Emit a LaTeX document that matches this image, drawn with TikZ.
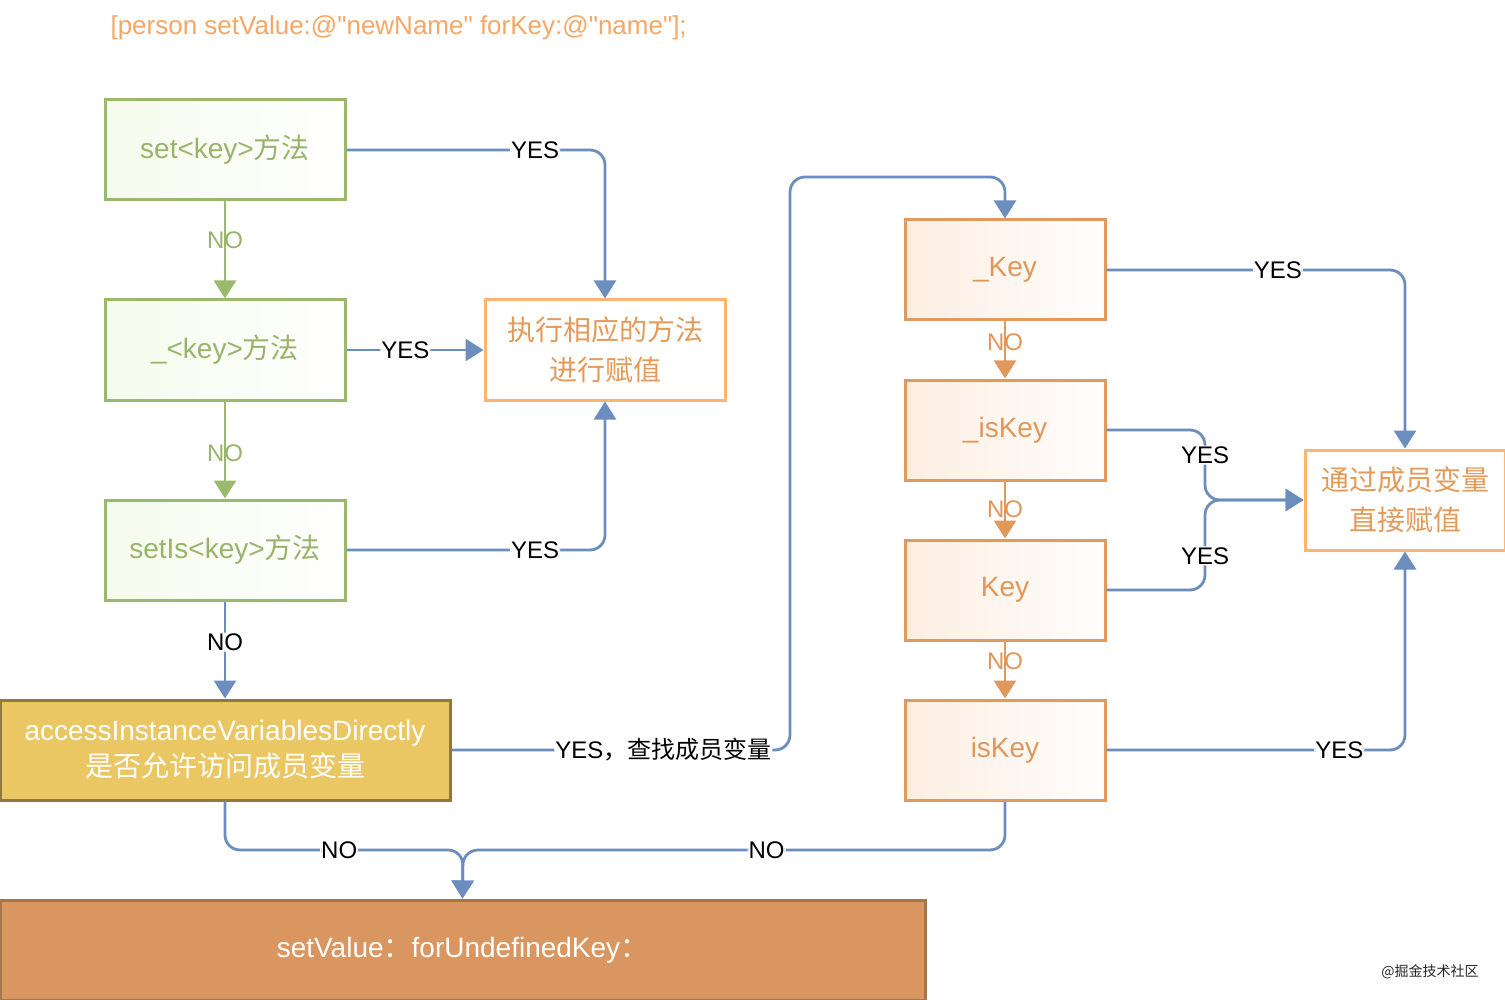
\documentclass[tikz,border=0pt]{standalone}
\usepackage{fontspec}
\setmainfont{Liberation Sans}
\newfontfamily\cjk{Noto Sans CJK SC}
\usepackage{xcolor}
\usepackage{tikz}
\usetikzlibrary{arrows.meta,positioning}
\definecolor{wire}{HTML}{6C8EBF}
\definecolor{title}{HTML}{F5A766}
\definecolor{leaf}{HTML}{9AB96C}
\definecolor{leaftext}{HTML}{98B46B}
\definecolor{leafpale}{HTML}{F5FBEC}
\definecolor{peach}{HTML}{E19A5E}
\definecolor{peachtext}{HTML}{E0975A}
\definecolor{peachpale}{HTML}{FDEEE2}
\definecolor{run}{HTML}{FFB570}
\definecolor{runtext}{HTML}{E49A58}
\definecolor{gold}{HTML}{EAC763}
\definecolor{golddark}{HTML}{8E7A41}
\definecolor{clay}{HTML}{DA9660}
\definecolor{claydark}{HTML}{A3774B}

\begin{document}
\begin{tikzpicture}[x=1pt,y=-1pt,
  box/.style={minimum height=100pt,inner sep=0pt,line width=3pt,align=center,
    font=\fontsize{28}{40}\selectfont},
  leafbox/.style={box,minimum width=240pt,draw=leaf,left color=leafpale,right color=white,text=leaftext},
  peachbox/.style={box,minimum width=200pt,draw=peach,left color=peachpale,right color=white!92!peachpale,text=peachtext},
  runbox/.style={box,draw=run,fill=white,text=runtext},
  flow/.style={draw=wire,line width=2.8pt,rounded corners=15pt,-{Triangle[length=18pt,width=22pt]}},
  tag/.style={fill=white,inner sep=1pt,text=black,font=\fontsize{24}{28}\selectfont},
  notag/.style={inner sep=0pt,font=\fontsize{24}{28}\selectfont}]
\useasboundingbox (0,0) rectangle (1505,1000);

% title line
\node[anchor=base west,text=title,font=\fontsize{26}{30}\selectfont] (head) at (107,35)
  {[person setValue:@\textquotedbl newName\textquotedbl{} forKey:@\textquotedbl name\textquotedbl];};

% left column
\node[leafbox] (s1) at (225,150) {set<key>{\cjk 方法}};
\node[leafbox] (s2) at (225,350) {\_<key>{\cjk 方法}};
\node[leafbox] (s3) at (225,550) {setIs<key>{\cjk 方法}};
\node[runbox,minimum width=240pt] (exec) at (605,350) {\cjk 执行相应的方法\\\cjk 进行赋值};
\node[box,minimum width=450pt,draw=golddark,fill=gold,text=white,
  font=\fontsize{28}{36}\selectfont] (acc) at (225,750)
  {accessInstanceVariablesDirectly\\\cjk 是否允许访问成员变量};
\node[box,minimum width=925pt,draw=claydark,fill=clay,text=white] (bot) at (462.5,950)
  {setValue{\cjk ：}forUndefinedKey{\cjk ：}};

% right column
\node[peachbox] (k1) at (1005,270) {\_Key};
\node[peachbox] (k2) at (1005,430) {\_isKey};
\node[peachbox] (k3) at (1005,590) {Key};
\node[peachbox] (k4) at (1005,750) {isKey};
\node[runbox,minimum width=200pt] (via) at (1405,500) {\cjk 通过成员变量\\\cjk 直接赋值};

\coordinate (up) at (790,177);
\coordinate (sp) at (1205,500);
\coordinate (jn) at (463,850);

% green and orange NO arrows
\draw[flow,draw=leaf,-{Triangle[length=18pt,width=22pt,fill=leaf]}] (s1.south) -- node[notag,text=leaftext,pos=.4]{NO} (s2.north);
\draw[flow,draw=leaf,-{Triangle[length=18pt,width=22pt,fill=leaf]}] (s2.south) -- node[notag,text=leaftext,pos=.53]{NO} (s3.north);
\draw[flow,draw=peach] (k1.south) -- node[notag,text=peachtext,pos=.37]{NO} (k2.north);
\draw[flow,draw=peach] (k2.south) -- node[notag,text=peachtext,pos=.48]{NO} (k3.north);
\draw[flow,draw=peach] (k3.south) -- node[notag,text=peachtext,pos=.35]{NO} (k4.north);

% blue arrows
\draw[flow] (s1.east) -| node[tag,pos=.365]{YES} (exec.north);
\draw[flow] (s2.east) -- node[tag,pos=.43]{YES} (exec.west);
\draw[flow] (s3.east) -| node[tag,pos=.365]{YES} (exec.south);
\draw[flow] (s3.south) -- node[tag,pos=.42]{NO} (acc.north);
\draw[flow] (acc.east) -| node[tag,pos=.313]{YES{\cjk ，查找成员变量}} (up) -| (k1.north);
\draw[flow] (acc.south) |- node[tag,pos=.74]{NO} (jn) -- (bot.north);
\draw[flow] (k4.south) |- node[tag,pos=.72]{NO} (jn) -- (bot.north);
\draw[flow] (k1.east) -| node[tag,pos=.287]{YES} (via.north);
\draw[flow] (k2.east) -| node[tag,pos=.68]{YES} (sp) -- (via.west);
\draw[flow] (k3.east) -| node[tag,pos=.69]{YES} (sp) -- (via.west);
\draw[flow] (k4.east) -| node[tag,pos=.39]{YES} (via.south);

\node[text=black!85,font=\fontsize{14}{16}\selectfont] (mark) at (1430,972) {\cjk @掘金技术社区};
\end{tikzpicture}
\end{document}
